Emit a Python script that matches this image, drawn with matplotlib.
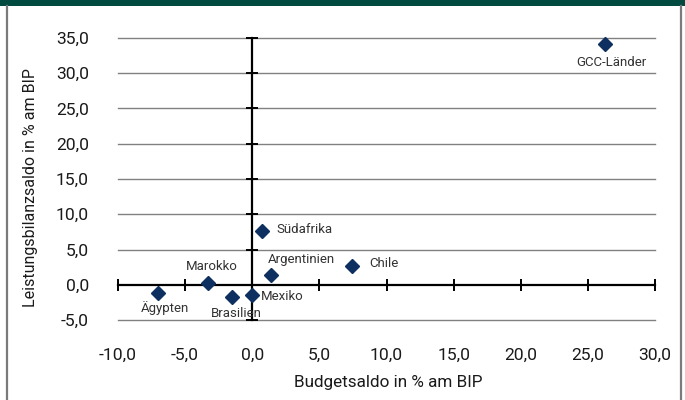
import matplotlib
matplotlib.use("Agg")
import matplotlib.pyplot as plt
from matplotlib.patches import Rectangle
from matplotlib.lines import Line2D

plt.rcParams['font.family'] = ['Roboto', 'DejaVu Sans']

countries = ["GCC-Länder", "Südafrika", "Argentinien", "Chile", "Marokko", "Ägypten", "Brasilien", "Mexiko"]
budget = [26.3, 0.7, 1.4, 7.4, -3.3, -7.0, -1.5, 0.0]
current = [34.1, 7.6, 1.4, 2.6, 0.3, -1.2, -1.8, -1.4]
x_ticks = [-10, -5, 0, 5, 10, 15, 20, 25, 30]
y_ticks = [-5, 0, 5, 10, 15, 20, 25, 30, 35]
x_label = "Budgetsaldo in % am BIP"
y_label = "Leistungsbilanzsaldo in % am BIP"

# label offsets in pixels (dx, dy, ha, va)
label_pos = {
    "GCC-Länder": (6, -18, 'center', 'center'),
    "Südafrika": (15, 2, 'left', 'center'),
    "Argentinien": (30, 15, 'center', 'center'),
    "Chile": (18, 3, 'left', 'center'),
    "Marokko": (4, 16, 'center', 'center'),
    "Ägypten": (7, -15, 'center', 'center'),
    "Brasilien": (4, -16, 'center', 'center'),
    "Mexiko": (9, -2, 'left', 'center'),
}

def fmt(v):
    return f"{v:.1f}".replace('.', ',')

W, H = 685, 400
fig = plt.figure(figsize=(6.85, 4.0), dpi=100)
fig.patch.set_facecolor('white')

# top band and frame
fig.add_artist(Rectangle((0, 1 - 6 / H), 1, 6 / H, transform=fig.transFigure,
                         facecolor='#004a3f', edgecolor='none'))
fig.add_artist(Line2D([7 / W, 7 / W], [0, 1 - 6 / H], transform=fig.transFigure,
                      color='#7a7a7a', lw=1.6))
fig.add_artist(Line2D([681 / W, 681 / W], [0, 1 - 6 / H], transform=fig.transFigure,
                      color='#7a7a7a', lw=1.6))

ax = fig.add_axes([118 / W, 80 / H, 537 / W, 282 / H])
ax.set_xlim(x_ticks[0], x_ticks[-1])
ax.set_ylim(y_ticks[0], y_ticks[-1])
ax.set_facecolor('none')

for s in ['top', 'right']:
    ax.spines[s].set_visible(False)
ax.spines['left'].set_position(('data', 0))
ax.spines['bottom'].set_position(('data', 0))
for s in ['left', 'bottom']:
    ax.spines[s].set_linewidth(1.6)
    ax.spines[s].set_color('black')
    ax.spines[s].set_zorder(2)

ax.set_xticks(x_ticks)
ax.set_yticks(y_ticks)
ax.tick_params(axis='both', direction='inout', length=9, width=1.4, color='black',
               labelbottom=False, labelleft=False)

# gridlines
for yv in y_ticks:
    if yv != 0:
        ax.axhline(yv, color='#808080', lw=1.0, zorder=1, clip_on=False)

# tick labels at the plot edges
secx = ax.secondary_xaxis('bottom')
secx.set_xticks(x_ticks)
secx.set_xticklabels([fmt(v) for v in x_ticks])
secx.spines['bottom'].set_visible(False)
secx.tick_params(length=0, pad=20, labelsize=12.6, labelcolor='#1a1a1a')

secy = ax.secondary_yaxis('left')
secy.set_yticks(y_ticks)
secy.set_yticklabels([fmt(v) for v in y_ticks])
secy.spines['left'].set_visible(False)
secy.tick_params(length=0, pad=21, labelsize=12.6, labelcolor='#1a1a1a')

fig.text(388 / W, 1 - 382 / H, x_label, fontsize=12.3, color='#1a1a1a',
         ha='center', va='center')
fig.text(31 / W, 1 - 188 / H, y_label, fontsize=11.5, color='#1a1a1a',
         ha='center', va='center', rotation=90)

ax.plot(budget, current, linestyle='none', marker='D', markersize=7.3,
        color='#0d3060', zorder=4, clip_on=False)

for name, xv, yv in zip(countries, budget, current):
    dx, dy, ha, va = label_pos[name]
    ax.annotate(name, (xv, yv), xytext=(dx * 0.72, dy * 0.72), textcoords='offset points',
                ha=ha, va=va, fontsize=9.5, color='#333333', zorder=5)

fig.savefig('out.png', dpi=100)
